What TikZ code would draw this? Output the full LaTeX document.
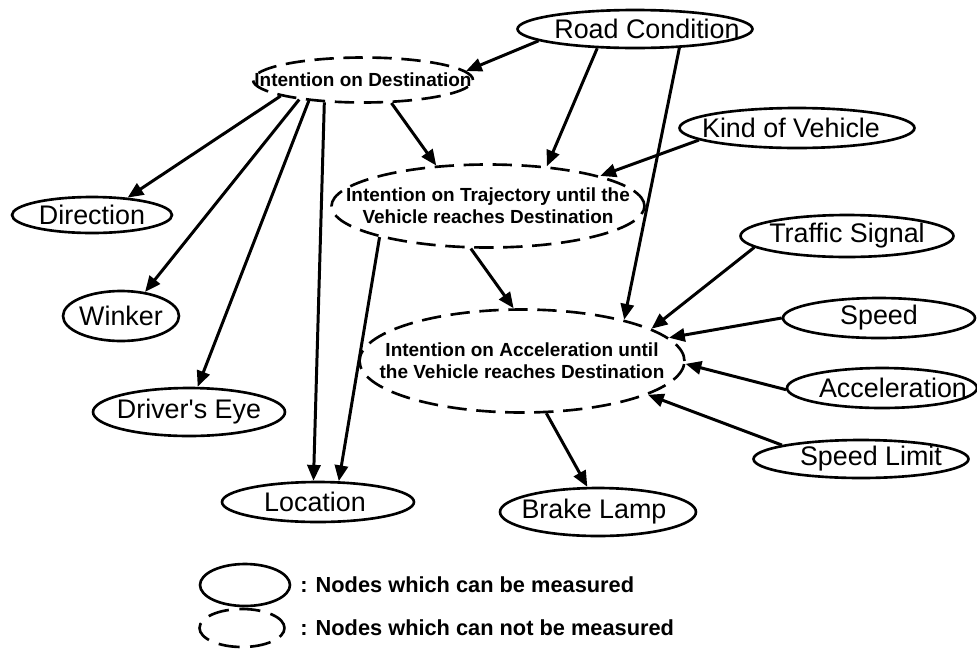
\documentclass[tikz,border=0pt]{standalone}
\usepackage{fontspec}
\setmainfont{Liberation Sans}
\usetikzlibrary{shapes.geometric,arrows.meta}
\begin{document}
\begin{tikzpicture}[x=0.02cm,y=-0.02cm,
  oval/.style={ellipse,draw,line width=1.5pt,inner sep=0pt},
  measured/.style={oval},
  hidden/.style={oval,dash pattern=on 11pt off 5.5pt},
  plain/.style={font=\fontsize{15.3}{18}\selectfont,inner sep=0pt},
  intent/.style={font=\bfseries\fontsize{10.8}{12.5}\selectfont,align=center,inner sep=0pt},
  link/.style={line width=1.7pt,-{Triangle[length=9pt,width=7.5pt]}},
  legendtxt/.style={font=\bfseries\fontsize{12.4}{15}\selectfont,anchor=west,inner sep=0pt}]
\useasboundingbox (0,0) rectangle (977,653);

% hidden (unmeasurable) nodes
\node[hidden,minimum width=4.4cm,minimum height=0.9cm,
  label={[intent]center:Intention on Destination}] (idest) at (363,80) {};
\node[hidden,minimum width=6.26cm,minimum height=1.66cm,
  label={[intent]center:Intention on Trajectory until the\\Vehicle reaches Destination}] (traj) at (488,206) {};
\node[hidden,minimum width=6.5cm,minimum height=2.06cm,
  label={[intent]center:Intention on Acceleration until\\the Vehicle reaches Destination}] (acc) at (522,361) {};

% measured nodes
\node[measured,minimum width=4.7cm,minimum height=0.76cm,
  label={[plain,xshift=0.24cm]center:Road Condition}] (rc) at (635,29) {};
\node[measured,minimum width=4.7cm,minimum height=0.8cm,
  label={[plain,xshift=-0.12cm]center:Kind of Vehicle}] (kov) at (797,128) {};
\node[measured,minimum width=3.2cm,minimum height=0.72cm,
  label={[plain]center:Direction}] (dir) at (92,215) {};
\node[measured,minimum width=4.26cm,minimum height=0.84cm,
  label={[plain]center:Traffic Signal}] (ts) at (847,236) {};
\node[measured,minimum width=2.32cm,minimum height=1.0cm,
  label={[plain]center:Winker}] (wink) at (121,316) {};
\node[measured,minimum width=3.84cm,minimum height=0.8cm,
  label={[plain]center:Speed}] (speed) at (879,318) {};
\node[measured,minimum width=3.8cm,minimum height=0.8cm,
  label={[plain,xshift=0.22cm]center:Acceleration}] (accel) at (882,388) {};
\node[measured,minimum width=3.84cm,minimum height=0.96cm,
  label={[plain]center:Driver\textquotesingle s Eye}] (eye) at (189,412) {};
\node[measured,minimum width=4.3cm,minimum height=0.76cm,
  label={[plain,xshift=0.2cm]center:Speed Limit}] (slim) at (861,459) {};
\node[measured,minimum width=3.84cm,minimum height=0.8cm,
  label={[plain,xshift=-0.06cm]center:Location}] (loc) at (318,502) {};
\node[measured,minimum width=3.92cm,minimum height=0.96cm,
  label={[plain,xshift=-0.08cm]center:Brake Lamp}] (brake) at (598,512) {};

% causal links
\draw[link] (rc.187.4) -- (idest.5.1);
\draw[link] (rc.207.2) -- (traj.34.8);
\draw[link] (rc.337) -- (acc.22.7);
\draw[link] (kov.187) -- (traj.15.4);
\draw[link] (idest.191.3) -- (dir.26);
\draw[link] (idest.197.3) -- (wink.45);
\draw[link] (idest.201.8) -- (eye.71.6);
\draw[link] (idest.210.3) -- (loc.102.8);
\draw[link] (idest.321.3) -- (traj.142.3);
\draw[link] (traj.196.7) -- (loc.45);
\draw[link] (traj.248.7) -- (acc.99.8);
\draw[link] (ts.187.7) -- (acc.14.2);
\draw[link] (speed.180) -- (acc.9);
\draw[link] (accel.181.2) -- (acc.359);
\draw[link] (slim.170.5) -- (acc.345.9);
\draw[link] (acc.295.1) -- (brake.113.5);

% legend
\node[measured,minimum width=1.8cm,minimum height=0.84cm] (keyA) at (245,585) {};
\node[oval,dash pattern=on 12pt off 6pt,minimum width=1.7cm,minimum height=0.76cm] (keyB) at (242,628) {};
\node[legendtxt] (keyAtxt) at (300,585) {: Nodes which can be measured};
\node[legendtxt] (keyBtxt) at (300,628) {: Nodes which can not be measured};
\end{tikzpicture}
\end{document}
